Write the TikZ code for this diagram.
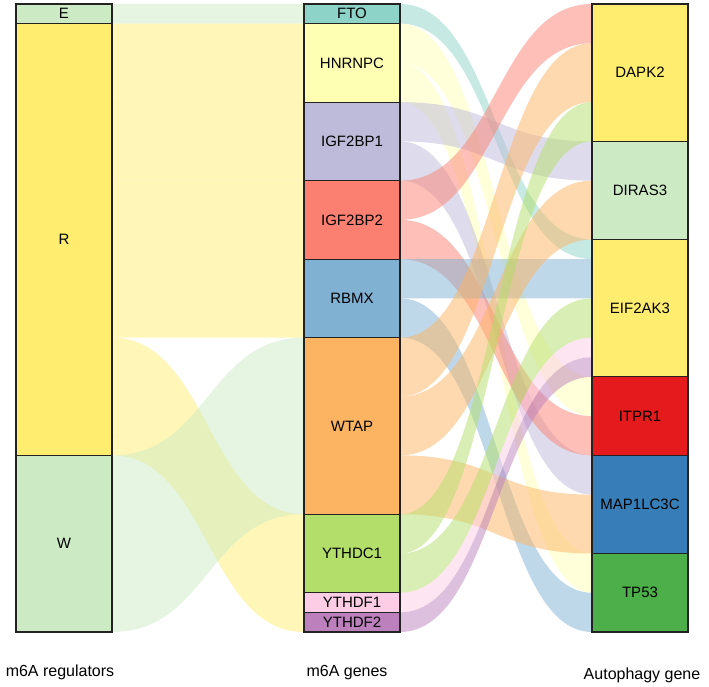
\documentclass[tikz,border=0pt]{standalone}
\usepackage{fontspec}
\setmainfont{Liberation Sans}
\usetikzlibrary{calc, backgrounds}
\definecolor{cline}{HTML}{222222}
\definecolor{cgreenl}{HTML}{CCEBC5}
\definecolor{cyell}{HTML}{FFED6F}
\definecolor{cfto}{HTML}{8DD3C7}
\definecolor{chnrnpc}{HTML}{FFFFB3}
\definecolor{cigfa}{HTML}{BEBADA}
\definecolor{cigfb}{HTML}{FB8072}
\definecolor{crbmx}{HTML}{80B1D3}
\definecolor{cwtap}{HTML}{FDB462}
\definecolor{cythdc}{HTML}{B3DE69}
\definecolor{cythdfa}{HTML}{FCCDE5}
\definecolor{cythdfb}{HTML}{BC80BD}
\definecolor{citpr}{HTML}{E41A1C}
\definecolor{cmap}{HTML}{377EB8}
\definecolor{ctp}{HTML}{4DAF4A}
\def\ustep{19.625}
\tikzset{
  gene/.style={draw=cline, fill=#1, line width=1.2pt, outer sep=0pt, inner sep=0pt, minimum width=96pt, anchor=north west, font=\fontsize{15}{18}\selectfont},
  flow/.style={fill=#1, fill opacity=.5},
  axis/.style={font=\fontsize{16}{19}\selectfont, anchor=base},
}
% band between two stacked nodes: source, offset, target, offset, width, colour
\newcommand\band[6]{%
  \path ($(#1.north east)+(0,-#2*\ustep)$) coordinate (s1)
        ($(#1.north east)+(0,-#2*\ustep-#5*\ustep)$) coordinate (s2)
        ($(#3.north west)+(0,-#4*\ustep)$) coordinate (t1)
        ($(#3.north west)+(0,-#4*\ustep-#5*\ustep)$) coordinate (t2)
        ($(s1)!.5!(t1)$) coordinate (m);
  \fill[flow=#6] (s1) .. controls (m |- s1) and (m |- t1) .. (t1) -- (t2)
    .. controls (m |- t2) and (m |- s2) .. (s2) -- cycle;
}

\begin{document}
\begin{tikzpicture}[x=1pt, y=1pt]
  \useasboundingbox (0,0) rectangle (709,687);
  % three columns
  \foreach \n/\o/\h/\c in {E/0/1/cgreenl, R/1/22/cyell, W/23/9/cgreenl}
    \node[gene=\c, minimum height=\h*\ustep*1pt] (\n) at (16,683-\o*\ustep) {\n};
  \foreach \n/\o/\h/\c in {FTO/0/1/cfto, HNRNPC/1/4/chnrnpc, IGF2BP1/5/4/cigfa, IGF2BP2/9/4/cigfb,
      RBMX/13/4/crbmx, WTAP/17/9/cwtap, YTHDC1/26/4/cythdc, YTHDF1/30/1/cythdfa, YTHDF2/31/1/cythdfb}
    \node[gene=\c, minimum height=\h*\ustep*1pt] (\n) at (304,683-\o*\ustep) {\n};
  \foreach \n/\o/\h/\c in {DAPK2/0/7/cyell, DIRAS3/7/5/cgreenl, EIF2AK3/12/7/cyell,
      ITPR1/19/4/citpr, MAP1LC3C/23/5/cmap, TP53/28/4/ctp}
    \node[gene=\c, minimum height=\h*\ustep*1pt] (\n) at (592,683-\o*\ustep) {\n};

  \begin{scope}[on background layer]
    \foreach \s/\so/\t/\to/\w/\c in {E/0/FTO/0/1/cgreenl, R/0/HNRNPC/0/4/cyell, R/4/IGF2BP1/0/4/cyell,
        R/8/IGF2BP2/0/4/cyell, R/12/RBMX/0/4/cyell, R/16/YTHDC1/0/4/cyell, R/20/YTHDF1/0/1/cyell,
        R/21/YTHDF2/0/1/cyell, W/0/WTAP/0/9/cgreenl}
      \band{\s}{\so}{\t}{\to}{\w}{\c};
    \foreach \s/\so/\t/\to/\w/\c in {FTO/0/EIF2AK3/0/1/cfto,
        HNRNPC/0/ITPR1/0/2/chnrnpc, HNRNPC/2/TP53/0/2/chnrnpc,
        IGF2BP1/0/DIRAS3/0/2/cigfa, IGF2BP1/2/MAP1LC3C/0/2/cigfa,
        IGF2BP2/0/DAPK2/0/2/cigfb, IGF2BP2/2/ITPR1/2/2/cigfb,
        RBMX/0/EIF2AK3/1/2/crbmx, RBMX/2/TP53/2/2/crbmx,
        WTAP/0/DAPK2/2/3/cwtap, WTAP/3/DIRAS3/2/3/cwtap, WTAP/6/MAP1LC3C/2/3/cwtap,
        YTHDC1/0/DAPK2/5/2/cythdc, YTHDC1/2/EIF2AK3/3/2/cythdc,
        YTHDF1/0/EIF2AK3/5/1/cythdfa, YTHDF2/0/EIF2AK3/6/1/cythdfb}
      \band{\s}{\so}{\t}{\to}{\w}{\c};
  \end{scope}

  \node[axis] (regs) at (60,10) {m6A regulators};
  \node[axis] (genes) at (347,10) {m6A genes};
  \node[axis] (auto) at (642,7) {Autophagy gene};
\end{tikzpicture}
\end{document}
